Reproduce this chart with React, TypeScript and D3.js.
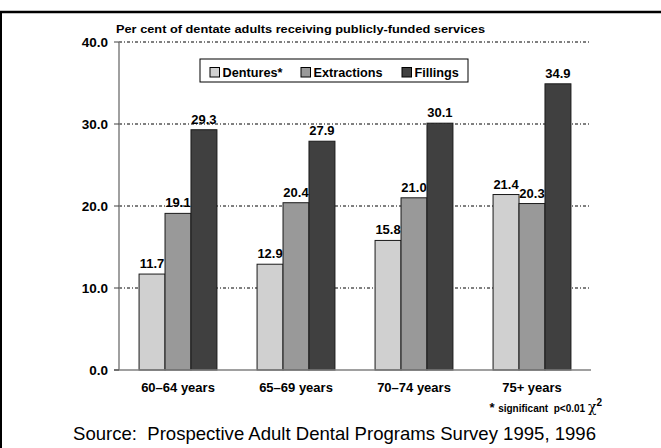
import React from "react";
import * as d3 from "d3";

const categories = ["60–64 years", "65–69 years", "70–74 years", "75+ years"];
const seriesNames = ["Dentures*", "Extractions", "Fillings"];
const dentures = [11.7, 12.9, 15.8, 21.4];
const extractions = [19.1, 20.4, 21.0, 20.3];
const fillings = [29.3, 27.9, 30.1, 34.9];
const yTicks = [0, 10, 20, 30, 40];
const colors = ["#d0d0d0", "#999999", "#404040"];

const W = 661;
const H = 448;
const FONT = "'Liberation Sans', Arial, sans-serif";

export default function App() {
  const series = [dentures, extractions, fillings];
  const x0 = d3.scaleBand<string>().domain(categories).range([119, 591]).paddingInner(0.34).paddingOuter(0.17);
  const x1 = d3.scaleBand<number>().domain([0, 1, 2]).range([0, x0.bandwidth()]);
  const y = d3.scaleLinear().domain([0, 40]).range([370, 42]);

  return (
    <svg width={W} height={H} style={{ position: "absolute", left: 0, top: 0, background: "#fff" }} fontFamily={FONT}>
      <rect x={0} y={0} width={W} height={H} fill="#fff" />
      {/* frame */}
      <line x1={0} x2={W} y1={12} y2={12} stroke="#000" strokeWidth={2.5} />
      <line x1={1} x2={1} y1={11} y2={H} stroke="#000" strokeWidth={2} />

      {/* title */}
      <text x={116} y={33} fontSize={11.5} fontWeight="bold" fill="#000" textLength={369} lengthAdjust="spacingAndGlyphs">
        Per cent of dentate adults receiving publicly-funded services
      </text>

      {/* gridlines */}
      {yTicks.filter((t) => t > 0).map((t) => (
        <line key={"g" + t} x1={119} x2={591} y1={y(t)} y2={y(t)} stroke="#000" strokeWidth={1} strokeDasharray="3,2,1,2" />
      ))}

      {/* bars */}
      {categories.map((c, ci) => (
        <g key={c}>
          {series.map((s, si) => (
            <rect
              key={si}
              x={(x0(c) as number) + (x1(si) as number)}
              y={y(s[ci])}
              width={x1.bandwidth()}
              height={y(0) - y(s[ci])}
              fill={colors[si]}
              stroke="#1a1a1a"
              strokeWidth={1}
            />
          ))}
        </g>
      ))}

      {/* value labels */}
      {categories.map((c, ci) =>
        series.map((s, si) => (
          <text
            key={c + si}
            x={(x0(c) as number) + (x1(si) as number) + x1.bandwidth() / 2}
            y={y(s[ci]) - 6}
            textAnchor="middle"
            fontSize={13}
            fontWeight="bold"
            fill="#000"
          >
            {s[ci].toFixed(1)}
          </text>
        ))
      )}

      {/* axes */}
      <line x1={119} x2={119} y1={y(40)} y2={y(0)} stroke="#808080" strokeWidth={1.5} />
      <line x1={114} x2={591} y1={y(0)} y2={y(0)} stroke="#808080" strokeWidth={1.5} />
      {yTicks.map((t) => (
        <g key={"t" + t}>
          <line x1={114} x2={119} y1={y(t)} y2={y(t)} stroke="#404040" strokeWidth={1} />
          <text x={108} y={y(t) + 4.5} textAnchor="end" fontSize={13.5} fontWeight="bold" fill="#000">
            {t.toFixed(1)}
          </text>
        </g>
      ))}

      {/* category labels */}
      {categories.map((c) => (
        <text key={"c" + c} x={(x0(c) as number) + x0.bandwidth() / 2} y={392} textAnchor="middle" fontSize={13} fontWeight="bold" fill="#000">
          {c}
        </text>
      ))}

      {/* legend */}
      <rect x={200} y={59} width={268} height={23} fill="#fff" stroke="#000" strokeWidth={1} />
      {seriesNames.map((n, i) => {
        const lx = [210, 301, 402][i];
        return (
          <g key={n}>
            <rect x={lx} y={67.5} width={9.5} height={9.5} fill={colors[i]} stroke="#000" strokeWidth={1} />
            <text x={lx + 12.5} y={77} fontSize={12.7} fontWeight="bold" fill="#000">
              {n}
            </text>
          </g>
        );
      })}

      {/* footnote */}
      <text x={602} y={412} textAnchor="end" fill="#000">
        <tspan fontSize={13} fontWeight="bold">* </tspan>
        <tspan fontSize={10} fontWeight="bold">significant{"\u00a0\u00a0"}p&lt;0.01 </tspan>
        <tspan fontSize={14} fontFamily="'DejaVu Serif', serif">χ</tspan>
        <tspan fontSize={10} fontWeight="bold" dy={-6}>2</tspan>
      </text>

      {/* source */}
      <text x={73} y={440} fontSize={18.5} fill="#000" textLength={523} lengthAdjust="spacingAndGlyphs" style={{ whiteSpace: "pre" }}>
        {"Source:  Prospective Adult Dental Programs Survey 1995, 1996"}
      </text>
    </svg>
  );
}
